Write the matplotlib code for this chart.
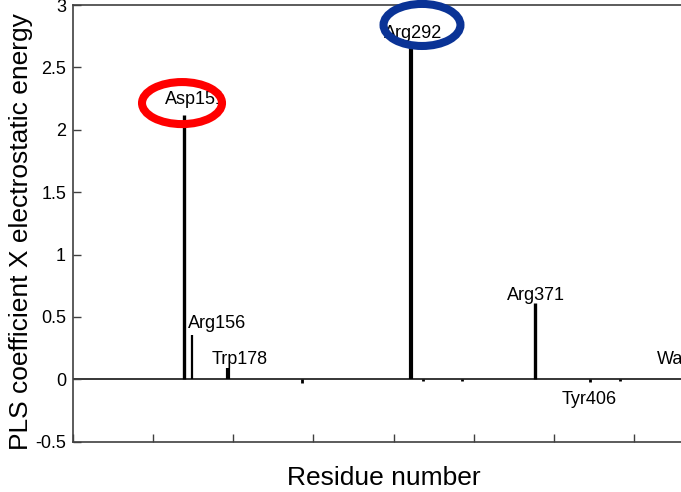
import matplotlib.pyplot as plt
from matplotlib.patches import Ellipse

plt.rcParams['font.family'] = ['Liberation Sans', 'DejaVu Sans']

# residue position along the x axis (sequence index) and PLS coefficient
bar_x = [69.2, 74.2, 96.7, 210.9, 288.2]
bar_y = [2.12, 0.356, 0.09, 2.66, 0.61]
bar_lw = [2.4, 1.6, 3.0, 3.0, 2.4]

# tiny contributions close to zero
small_x = [142.9, 218.3, 242.7, 322.5, 341.2]
small_y = [-0.03, -0.012, -0.012, -0.025, -0.015]

labels = ['Asp151', 'Arg156', 'Trp178', 'Arg292', 'Arg371', 'Tyr406', 'Wat']
label_pos = [(76.7, 2.24), (89.8, 0.45), (104.2, 0.155), (212.1, 2.775),
             (288.8, 0.675), (322.2, -0.158), (364.3, 0.155)]

yticks = [-0.5, 0, 0.5, 1, 1.5, 2, 2.5, 3]
ytick_labels = ['-0.5', '0', '0.5', '1', '1.5', '2', '2.5', '3']

fig = plt.figure(figsize=(6.81, 4.92), dpi=100)
ax = fig.add_axes([73 / 681, 50.3 / 492, (695 - 73) / 681, (441.7 - 5) / 492])

ax.axhline(0, color='black', lw=1.1, zorder=1)
ax.vlines(bar_x, 0, bar_y, colors='black', linewidths=bar_lw, zorder=2)
ax.vlines(small_x, 0, small_y, colors='black', linewidths=2.0, zorder=2)

for lab, (lx, ly) in zip(labels, label_pos):
    ha = 'left' if lab == 'Wat' else 'center'
    ax.text(lx, ly, lab, ha=ha, va='center', fontsize=13, zorder=3, clip_on=False)

# highlight circles
ax.add_patch(Ellipse((68.0, 2.214), 49.9, 0.337, fill=False, ec='#ff0000',
                     lw=5.8, zorder=5, clip_on=False))
ax.add_patch(Ellipse((217.7, 2.84), 48.0, 0.337, fill=False, ec='#0a3396',
                     lw=5.8, zorder=5, clip_on=False))

ax.set_xlim(0, 388)
ax.set_ylim(-0.5, 3)
ax.set_yticks(yticks)
ax.set_yticklabels(ytick_labels)
ax.set_xticks(range(0, 400, 50))
ax.set_xticklabels([])
ax.tick_params(direction='in', length=6, width=1.0, color='#404040',
               labelsize=13, pad=5)
ax.tick_params(axis='x', bottom=True, top=False)
for s in ['left', 'bottom', 'top', 'right']:
    ax.spines[s].set_color('#404040')
    ax.spines[s].set_linewidth(1.2)

fig.text(21.5 / 681, (492 - 231.5) / 492, 'PLS coefficient X electrostatic energy',
         rotation=90, ha='center', va='center', fontsize=19)
fig.text(384 / 681, 7 / 492, 'Residue number', ha='center', va='baseline', fontsize=19)

fig.savefig('out.png', dpi=100)
